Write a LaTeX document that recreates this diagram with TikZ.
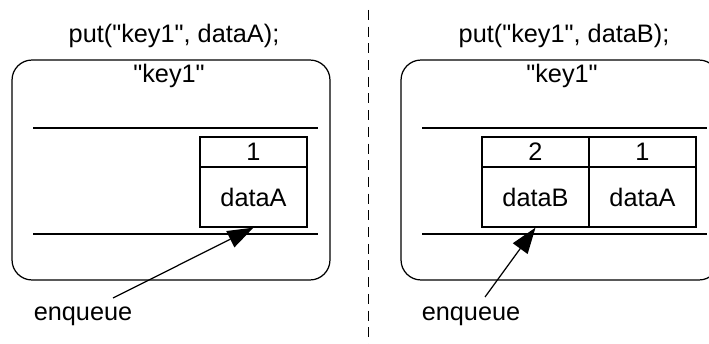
\documentclass[tikz,border=0pt]{standalone}
\usepackage{fontspec}
\setmainfont{Liberation Sans}[Ligatures=TeXOff]
\usetikzlibrary{arrows.meta}

\begin{document}
\begin{tikzpicture}[x=0.02cm, y=-0.02cm, line width=0.7pt,
        every node/.style={font=\fontsize{14.4}{17}\selectfont},
        txt/.style={anchor=base, inner sep=0pt},
        bucket/.style={draw, rounded corners=0.4cm, minimum width=6.36cm, minimum height=4.4cm, inner sep=0pt},
        numcell/.style={draw, minimum width=2.14cm, minimum height=0.6cm, inner sep=0pt},
        datacell/.style={draw, minimum width=2.14cm, minimum height=1.2cm, inner sep=0pt},
        push/.style={-{Triangle[length=0.52cm, width=0.36cm]}}]
        \clip (0,0) rectangle (709,344);
        % separator
        \draw[line width=0.8pt, dash pattern=on 0.2cm off 0.134cm] (368.5,10) -- (368.5,344);
        % first put
        \node[txt] (callA) at (174,43) {put("key1", dataA);};
        \node[bucket] (bucketA) at (171,170) {};
        \node[txt] (keyA) at (169,83) {"key1"};
        \foreach \y in {128,234} {
            \draw (33,\y) -- (318,\y);
        }
        \node[numcell] (numA) at (253.5,152) {1};
        \node[datacell] (datA) at (253.5,197) {dataA};
        \node[txt] (enqA) at (83,320) {enqueue};
        \coordinate (tailA) at (113,298);
        \draw[push] (tailA) -- (datA.south);
        % second put
        \node[txt] (callB) at (564,43) {put("key1", dataB);};
        \node[bucket] (bucketB) at (560,170) {};
        \node[txt] (keyB) at (562,83) {"key1"};
        \foreach \y in {128,234} {
            \draw (422,\y) -- (707,\y);
        }
        \foreach \x/\n/\d/\name in {535.5/2/dataB/B, 642.5/1/dataA/A} {
            \node[numcell] (num\name) at (\x,152) {\n};
            \node[datacell] (dat\name) at (\x,197) {\d};
        }
        \node[txt] (enqB) at (471,320) {enqueue};
        \coordinate (tailB) at (485,297);
        \draw[push] (tailB) -- (datB.south);
\end{tikzpicture}
\end{document}
